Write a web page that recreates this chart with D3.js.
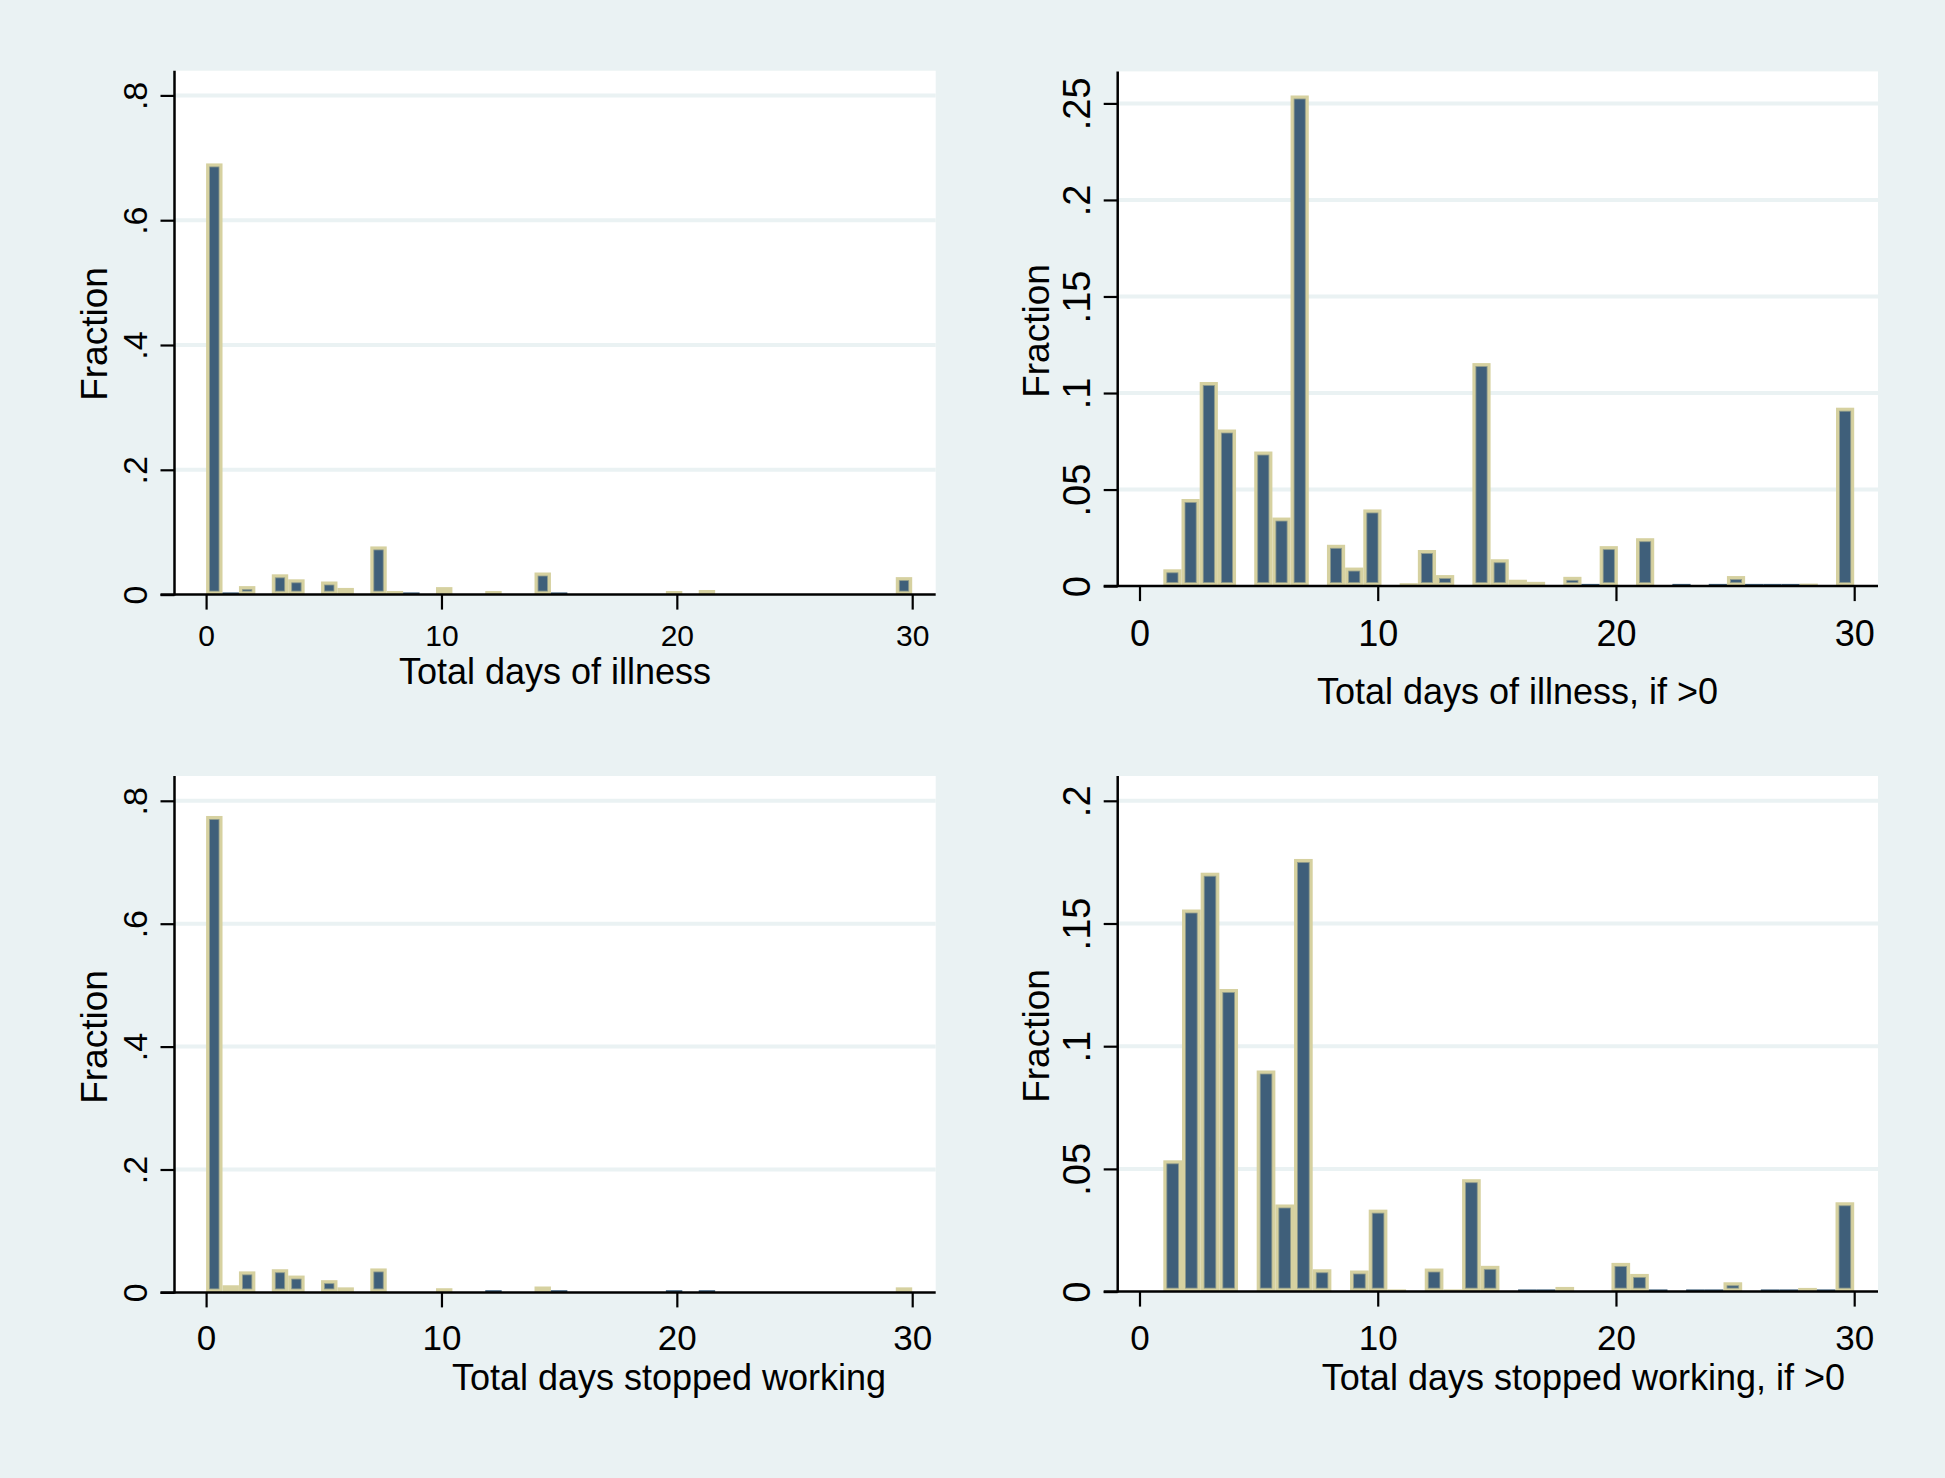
<!DOCTYPE html>
<html><head><meta charset="utf-8">
<script src="https://cdn.jsdelivr.net/npm/d3@7"></script>
<style>html,body{margin:0;padding:0;background:#eaf2f3;} svg{display:block;}</style>
</head><body>
<svg id="chart" width="1945" height="1478"></svg>
<script>
// ---------------- DATA ----------------
const xTicks = [0, 10, 20, 30];
const yTicksA = [0, .2, .4, .6, .8];
const yLabelsA = ["0", ".2", ".4", ".6", ".8"];
const yTicksB = [0, .05, .1, .15, .2, .25];
const yLabelsB = ["0", ".05", ".1", ".15", ".2", ".25"];
const yTicksD = [0, .05, .1, .15, .2];
const yLabelsD = ["0", ".05", ".1", ".15", ".2"];

const xTitles = ["Total days of illness", "Total days of illness, if >0",
                 "Total days stopped working", "Total days stopped working, if >0"];
const yTitle = "Fraction";

// Histogram bins: start value and bin width (days)
const illnessStart = 0, illnessBinWidth = 30 / 43;
const illnessFrac = [
  .691, .0015, .0136, 0, .0325, .0245, 0, .021, .0107, 0,
  .0772, .0058, .0015, 0, .012, 0, 0, .0058, 0, 0,
  .0354, .0015, 0, 0, 0, 0, 0, 0, .0058, 0,
  .0074, 0, 0, 0, 0, 0, 0, 0, 0, 0,
  0, 0, .028];

const illnessPosStart = 1, illnessPosBinWidth = 29 / 38;
const illnessPosFrac = [
  .0087, .0451, .1057, .0811, 0, .0697, .0355, .2541, 0, .0214,
  .0096, .0397, 0, .0015, .0187, .0057, 0, .1155, .0139, .0033,
  .0022, 0, .0048, .0005, .0207, 0, .0248, 0, .0004, 0,
  .0004, .0052, .0002, .0002, .0003, .0013, 0, .0924];

const stoppedStart = 0, stoppedBinWidth = 30 / 43;
const stoppedFrac = [
  .7753, .0116, .0342, 0, .0377, .0274, 0, .0199, .0082, 0,
  .039, 0, 0, 0, .0068, 0, 0, .0006, 0, 0,
  .0096, .0006, 0, 0, 0, 0, 0, 0, .0006, 0,
  .0006, 0, 0, 0, 0, 0, 0, 0, 0, 0,
  0, 0, .0082];

const stoppedPosStart = 1, stoppedPosBinWidth = 29 / 37;
const stoppedPosFrac = [
  .0535, .1557, .1707, .1233, 0, .0901, .0355, .1763, .0091, 0,
  .0086, .0334, .0009, 0, .0094, .0009, .0458, .0105, 0, .0003,
  .0004, .0019, 0, 0, .0117, .0072, .0004, 0, .0003, .0004,
  .0038, 0, .0003, .0004, .0015, .0004, .0364];

// ---------------- LAYOUT ----------------
const FONT = "'Liberation Sans', Arial, Helvetica, sans-serif";
const BG = "#eaf2f3", FILL = "#3f5f7a", EDGE = "#d6d1a0";

const panels = [
  {frac: illnessFrac, start: illnessStart, bw: illnessBinWidth, yTicks: yTicksA, yLabels: yLabelsA, yTop: .8, title: xTitles[0],
   L: 174.5, R: 935.7, T: 70.7, xr: [206.1, 912.2], yr: [594.6, 95.4],
   xFont: 30, yFont: 34, xLabOff: 51.5, yLabOff: 28, titleX: 555, titleY: 684, fracX: 107, fracY: 334},
  {frac: illnessPosFrac, start: illnessPosStart, bw: illnessPosBinWidth, yTicks: yTicksB, yLabels: yLabelsB, yTop: .25, title: xTitles[1],
   L: 1117.7, R: 1878, T: 71.4, xr: [1139.5, 1854.2], yr: [586.1, 103.4],
   xFont: 36, yFont: 38, xLabOff: 59.5, yLabOff: 28, titleX: 1517.5, titleY: 704, fracX: 1049, fracY: 331},
  {frac: stoppedFrac, start: stoppedStart, bw: stoppedBinWidth, yTicks: yTicksA, yLabels: yLabelsA, yTop: .8, title: xTitles[2],
   L: 174.5, R: 935.7, T: 776, xr: [206.1, 912.2], yr: [1292.4, 800.8],
   xFont: 35, yFont: 34, xLabOff: 58, yLabOff: 28, titleX: 669, titleY: 1390, fracX: 107, fracY: 1037},
  {frac: stoppedPosFrac, start: stoppedPosStart, bw: stoppedPosBinWidth, yTicks: yTicksD, yLabels: yLabelsD, yTop: .2, title: xTitles[3],
   L: 1117.7, R: 1878, T: 776, xr: [1139.5, 1854.2], yr: [1291.6, 800.8],
   xFont: 35, yFont: 38, xLabOff: 58, yLabOff: 28, titleX: 1583.5, titleY: 1390, fracX: 1049, fracY: 1036}
];

const svg = d3.select("#chart");
svg.append("rect").attr("width", 1945).attr("height", 1478).attr("fill", BG);

panels.forEach(p => {
  const x = d3.scaleLinear().domain([0, 30]).range(p.xr);
  const y = d3.scaleLinear().domain([0, p.yTop]).range(p.yr);
  const base = y(0);
  const g = svg.append("g");

  // plot region
  g.append("rect").attr("x", p.L).attr("y", p.T).attr("width", p.R - p.L).attr("height", base - p.T).attr("fill", "#ffffff");

  // gridlines
  g.selectAll("line.grid").data(p.yTicks.filter(v => v > 0)).join("line")
    .attr("x1", p.L).attr("x2", p.R).attr("y1", d => y(d)).attr("y2", d => y(d))
    .attr("stroke", BG).attr("stroke-width", 4);

  // bars
  const bins = p.frac.map((v, i) => ({x0: p.start + i * p.bw, x1: p.start + (i + 1) * p.bw, v})).filter(d => d.v > 0);
  const B = 3.5;
  const bg = g.append("g");
  bins.forEach(d => {
    const px0 = x(d.x0), px1 = x(d.x1), py = y(d.v);
    const h = base - py;
    if (h < 1.6) {
      const hh = Math.max(h, 1.2) + 1;
      bg.append("rect").attr("x", px0).attr("y", base - hh).attr("width", px1 - px0).attr("height", hh).attr("fill", FILL);
    } else {
      bg.append("rect").attr("x", px0).attr("y", py).attr("width", px1 - px0).attr("height", h).attr("fill", EDGE);
      if (h > 2 * B + 0.5) {
        bg.append("rect").attr("x", px0 + B).attr("y", py + B).attr("width", px1 - px0 - 2 * B).attr("height", h - 2 * B)
          .attr("fill", FILL).attr("stroke", "#8e9a8c").attr("stroke-width", 0.8);
      }
    }
  });

  // y axis
  const yAxis = d3.axisLeft(y).tickValues(p.yTicks).tickFormat((d, i) => p.yLabels[i]).tickSize(14).tickSizeOuter(0);
  const ya = g.append("g").attr("transform", `translate(${p.L},0)`).call(yAxis);
  ya.select(".domain").remove();
  ya.selectAll(".tick line").attr("stroke", "#000").attr("stroke-width", 2.2);
  ya.selectAll(".tick text")
    .attr("x", null).attr("dy", null)
    .attr("transform", `translate(${-p.yLabOff},0) rotate(-90)`)
    .attr("text-anchor", "middle")
    .style("font-family", FONT).style("font-size", p.yFont + "px").attr("fill", "#000");

  // x axis
  const xAxis = d3.axisBottom(x).tickValues(xTicks).tickFormat(d3.format("d")).tickSize(15).tickSizeOuter(0);
  const xa = g.append("g").attr("transform", `translate(0,${base})`).call(xAxis);
  xa.select(".domain").remove();
  xa.selectAll(".tick line").attr("stroke", "#000").attr("stroke-width", 2.2);
  xa.selectAll(".tick text").attr("y", p.xLabOff).attr("dy", null)
    .style("font-family", FONT).style("font-size", p.xFont + "px").attr("fill", "#000");

  // axis lines
  g.append("line").attr("x1", p.L).attr("x2", p.L).attr("y1", p.T).attr("y2", base + 1).attr("stroke", "#000").attr("stroke-width", 2.5);
  g.append("line").attr("x1", p.L - 14).attr("x2", p.R).attr("y1", base).attr("y2", base).attr("stroke", "#000").attr("stroke-width", 2.5);

  // titles
  g.append("text").attr("x", p.titleX).attr("y", p.titleY).attr("text-anchor", "middle")
    .style("font-family", FONT).style("font-size", "36px").attr("fill", "#000").text(p.title);
  g.append("text").attr("transform", `translate(${p.fracX},${p.fracY}) rotate(-90)`).attr("text-anchor", "middle")
    .style("font-family", FONT).style("font-size", "37px").attr("fill", "#000").text(yTitle);
});
</script>
</body></html>
